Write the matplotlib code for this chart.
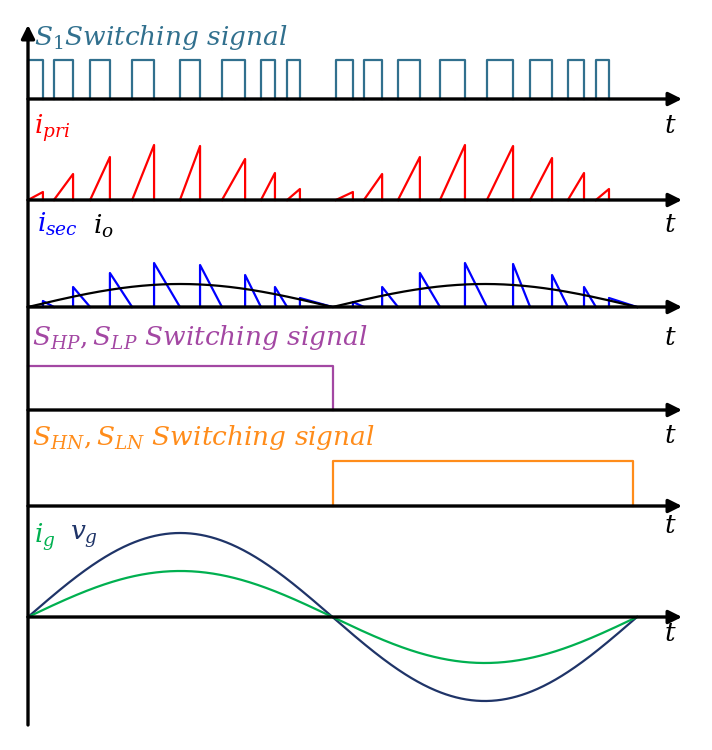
import matplotlib.pyplot as plt
import numpy as np

plt.rcParams['mathtext.fontset'] = 'dejavuserif'

# switching periods of S1 (time units, half line cycle = 10)
s1_on = [0.00, 0.85, 2.04, 3.42, 4.99, 6.37, 7.65, 8.51,
         10.11, 11.03, 12.15, 13.53, 15.07, 16.49, 17.73, 18.65]
s1_off = [0.49, 1.48, 2.69, 4.14, 5.65, 7.13, 8.11, 8.93,
          10.67, 11.63, 12.87, 14.35, 15.93, 17.21, 18.26, 19.08]
s1_high = 39

# peak currents
ipri_peak = [8, 26, 43, 55, 54, 41, 27, 11,
             8, 26, 43, 55, 54, 42, 27, 11]
isec_peak = [6, 20, 34, 44, 42, 32, 20, 9,
             5, 20, 34, 44, 43, 32, 20, 9]
isec_end = [0.85, 2.04, 3.42, 4.99, 6.37, 7.65, 8.51, 10.0,
            11.03, 12.15, 13.53, 15.07, 16.49, 17.73, 18.65, 20.0]
io_amp = 23

shp_on, shp_off, shp_high = 0.0, 10.0, 44
shn_on, shn_off, shn_high = 10.02, 19.87, 45

vg_amp = 84
ig_amp = 46
half_cycle = 10.0

# layout: baselines in pixels from top
W, H = 712, 750
base = [99, 200, 307, 410, 506, 617]
px_per_t = 30.45
x0 = 28

fig = plt.figure(figsize=(W / 100, H / 100), dpi=100)
ax = fig.add_axes([0, 0, 1, 1])
ax.set_xlim(-x0 / px_per_t, (W - x0) / px_per_t)
ax.set_ylim(H, 0)
ax.axis('off')

t_end = (682 - x0) / px_per_t

# axes arrows
for b in base:
    ax.annotate('', xy=(t_end, b), xytext=(0, b),
                arrowprops=dict(arrowstyle='-|>', lw=2.4, color='black',
                                mutation_scale=20, shrinkA=0, shrinkB=0),
                zorder=5)
ax.annotate('', xy=(0, 25), xytext=(0, 725),
            arrowprops=dict(arrowstyle='-|>', lw=2.4, color='black',
                            mutation_scale=20, shrinkA=0, shrinkB=0),
            zorder=5)

# S1 switching signal
c_s1 = '#31708e'
for on, off in zip(s1_on, s1_off):
    ax.plot([on, on, off, off], [base[0], base[0] - s1_high, base[0] - s1_high, base[0]],
            color=c_s1, lw=1.6)

# primary current
for on, off, pk in zip(s1_on, s1_off, ipri_peak):
    ax.plot([on, off, off], [base[1], base[1] - pk, base[1]], color='#ff0000', lw=1.6)

# secondary current
for off, end, pk in zip(s1_off, isec_end, isec_peak):
    ax.plot([off, off, end], [base[2], base[2] - pk, base[2]], color='#0000ff', lw=1.6)

t = np.linspace(0, 2 * half_cycle, 600)
ax.plot(t, base[2] - io_amp * np.abs(np.sin(np.pi * t / half_cycle)), color='black', lw=1.6)

# unfolder switching signals
ax.plot([shp_on, shp_off, shp_off], [base[3] - shp_high, base[3] - shp_high, base[3]],
        color='#a347a3', lw=1.6)
ax.plot([shn_on, shn_on, shn_off, shn_off],
        [base[4], base[4] - shn_high, base[4] - shn_high, base[4]],
        color='#ff8c1a', lw=1.6)

# grid voltage and current
ax.plot(t, base[5] - vg_amp * np.sin(np.pi * t / half_cycle), color='#1f3468', lw=1.6)
ax.plot(t, base[5] - ig_amp * np.sin(np.pi * t / half_cycle), color='#00b050', lw=1.6)

# labels
fs = 19
def lbl(xpx, ypx, s, c):
    ax.text((xpx - x0) / px_per_t, ypx, s, color=c, fontsize=fs, va='center', ha='left')

lbl(34, 37, r'$S_1 Switching\ signal$', c_s1)
lbl(34, 128, r'$i_{pri}$', '#ff0000')
lbl(37, 224, r'$i_{sec}$', '#0000ff')
lbl(93, 226, r'$i_o$', 'black')
lbl(32, 338, r'$S_{HP}, S_{LP}\ Switching\ signal$', '#a347a3')
lbl(32, 438, r'$S_{HN}, S_{LN}\ Switching\ signal$', '#ff8c1a')
lbl(34, 537, r'$i_g$', '#00b050')
lbl(70, 537, r'$v_g$', '#1f3468')
for ypx in [126, 225, 338, 436, 526, 634]:
    lbl(664, ypx, r'$t$', 'black')

plt.savefig('out.png', dpi=100)
